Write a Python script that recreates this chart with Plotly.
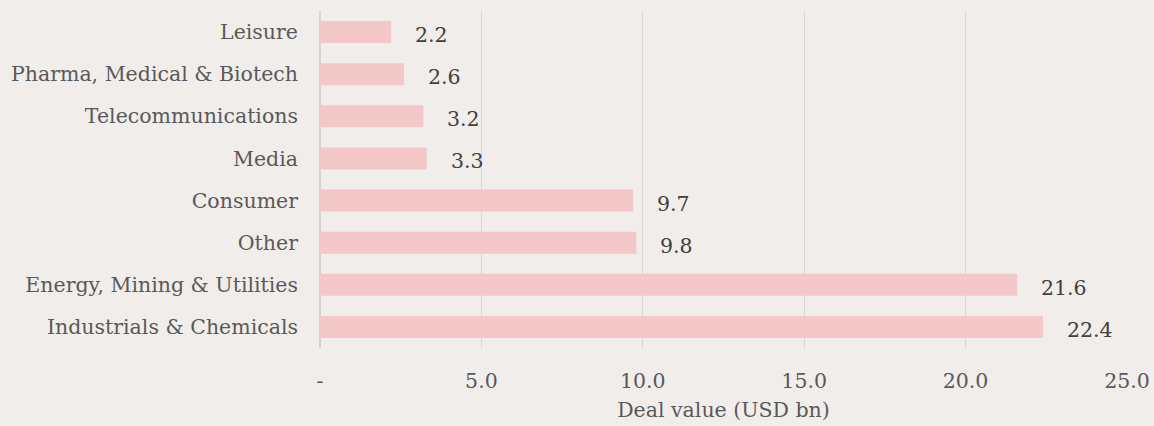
import plotly.graph_objects as go

categories = ["Industrials & Chemicals", "Energy, Mining & Utilities", "Other", "Consumer",
              "Media", "Telecommunications", "Pharma, Medical & Biotech", "Leisure"]
values = [22.4, 21.6, 9.8, 9.7, 3.3, 3.2, 2.6, 2.2]
tick_vals = [0, 5, 10, 15, 20, 25]
tick_text = ["-", "5.0", "10.0", "15.0", "20.0", "25.0"]
axis_title = "Deal value (USD bn)"

FONT = "Georgia, 'DejaVu Serif', serif"
BG = "#f0edea"
FS = 20.5

fig = go.Figure()
fig.add_trace(go.Bar(
    x=values, y=categories, orientation="h",
    marker=dict(color="#f4c7c8", line=dict(width=0)),
    hoverinfo="skip",
))
for c, v in zip(categories, values):
    fig.add_annotation(x=v, y=c, text=f"{v:.1f}", showarrow=False, xanchor="left",
                       xshift=22, yshift=-3, font=dict(family=FONT, size=FS, color="#404040"))

fig.update_layout(
    width=1154, height=426,
    paper_bgcolor=BG, plot_bgcolor=BG,
    margin=dict(l=320, r=27, t=11, b=78),
    bargap=0.48,
    showlegend=False,
    font=dict(family=FONT, size=FS, color="#595959"),
    xaxis=dict(range=[0, 25], tickvals=tick_vals, ticktext=tick_text,
               showgrid=True, gridcolor="#d6d6d6", gridwidth=1,
               zeroline=True, zerolinecolor="#d3d3d3", zerolinewidth=2,
               showline=False, ticks="", ticklabelstandoff=18,
               title=dict(text=axis_title, standoff=11, font=dict(size=FS, color="#595959")),
               automargin=False, fixedrange=True),
    yaxis=dict(showgrid=False, showline=False, ticks="", ticklabelstandoff=21,
               automargin=False, fixedrange=True),
)
fig.write_html("out.html", config={"displayModeBar": False},
               post_script="document.body.style.margin='0';document.body.style.background='%s';" % BG)
